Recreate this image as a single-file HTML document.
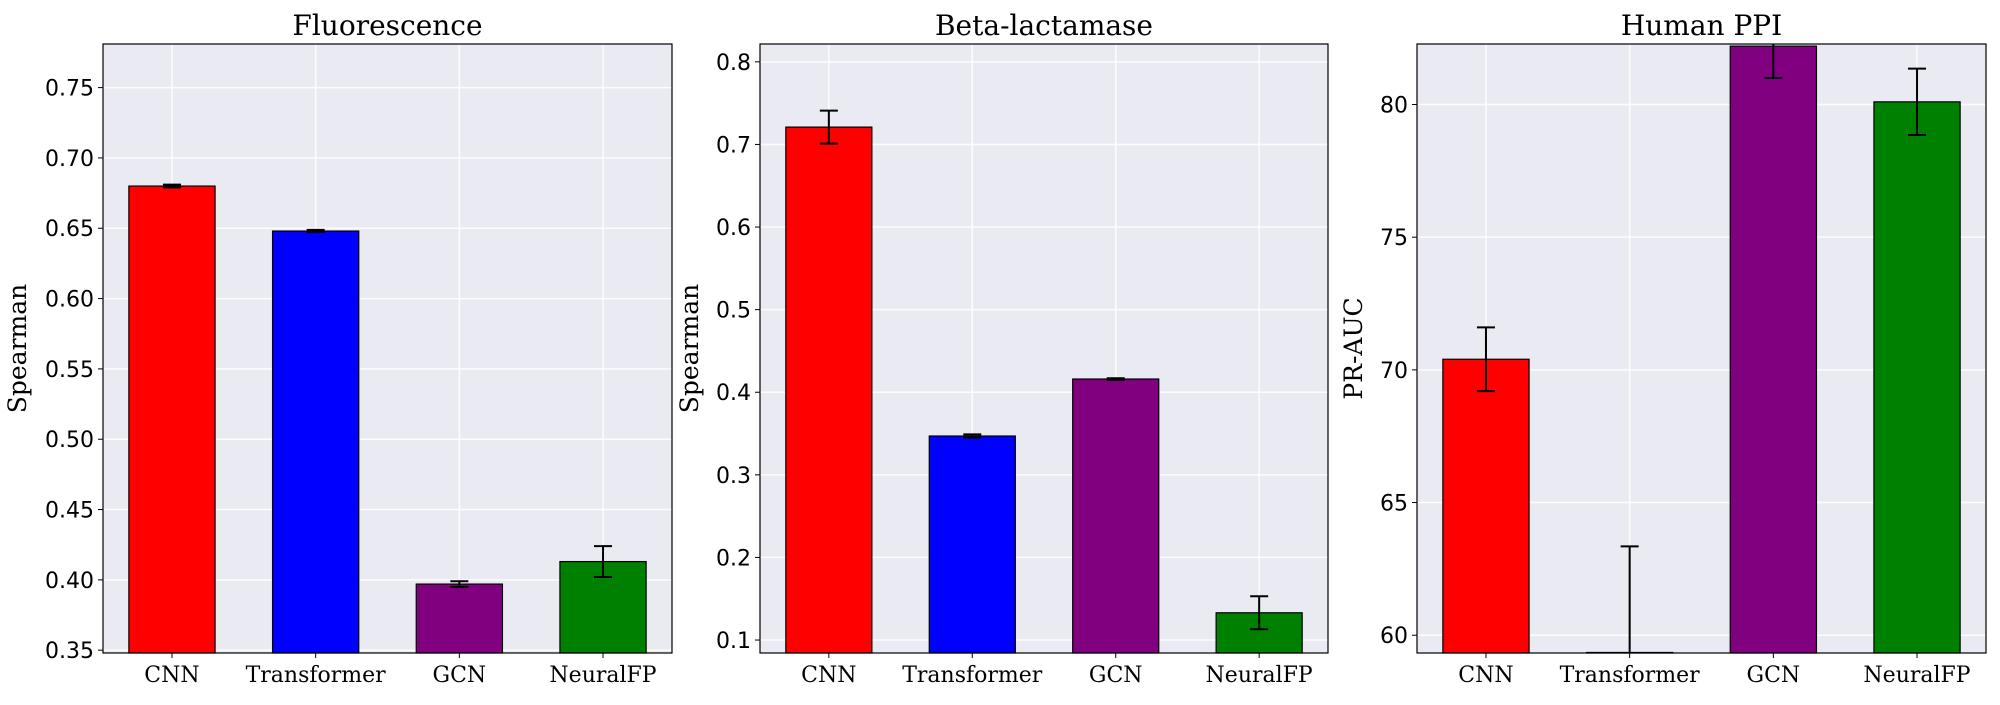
<!DOCTYPE html>
<html><head><meta charset="utf-8"><style>
body{margin:0;background:#fff;}
svg text{font-family:"DejaVu Sans","Liberation Sans",sans-serif;}
.serif{font-family:"DejaVu Serif","Liberation Serif",serif !important;}
</style></head><body>
<svg id="fig" width="2000" height="700" viewBox="0 0 2000 700" xmlns="http://www.w3.org/2000/svg"></svg>
<script>
const categories = ["CNN","Transformer","GCN","NeuralFP"];
const colors = ["#ff0000","#0000ff","#800080","#008000"];
const titles = ["Fluorescence","Beta-lactamase","Human PPI"];
const ylabels = ["Spearman","Spearman","PR-AUC"];
const fluorValues = [0.680,0.648,0.397,0.413];
const fluorErrors = [0.001,0.0008,0.002,0.011];
const betaValues = [0.721,0.347,0.416,0.133];
const betaErrors = [0.020,0.002,0.001,0.020];
const ppiValues = [70.4,59.35,82.2,80.1];
const ppiErrors = [1.2,4.0,1.2,1.25];
const fluorTicks = [0.35,0.40,0.45,0.50,0.55,0.60,0.65,0.70,0.75];
const fluorTickLabels = ["0.35","0.40","0.45","0.50","0.55","0.60","0.65","0.70","0.75"];
const betaTicks = [0.1,0.2,0.3,0.4,0.5,0.6,0.7,0.8];
const betaTickLabels = ["0.1","0.2","0.3","0.4","0.5","0.6","0.7","0.8"];
const ppiTicks = [60,65,70,75,80];
const ppiTickLabels = ["60","65","70","75","80"];
const ylims = [[0.348,0.781],[0.0843,0.8216],[59.33,82.28]];

const panels = [
 {x0:103,x1:672,vals:fluorValues,errs:fluorErrors,ticks:fluorTicks,tl:fluorTickLabels,name:"fluorescence",lx:26},
 {x0:760,x1:1328,vals:betaValues,errs:betaErrors,ticks:betaTicks,tl:betaTickLabels,name:"beta-lactamase",lx:698},
 {x0:1417,x1:1986,vals:ppiValues,errs:ppiErrors,ticks:ppiTicks,tl:ppiTickLabels,name:"human-ppi",lx:1362}
];
const NS="http://www.w3.org/2000/svg";
const svg=document.getElementById('fig');
function mk(tag,attrs,parent){const e=document.createElementNS(NS,tag);for(const k in attrs)e.setAttribute(k,attrs[k]);(parent||svg).appendChild(e);return e;}
const Y0=44,Y1=653;
panels.forEach((p,pi)=>{
  const g=mk('g',{});
  
  
  const [lo,hi]=ylims[pi];
  const ys=v=>Y1-(v-lo)/(hi-lo)*(Y1-Y0);
  const xs=v=>p.x0+(v+0.48)/3.96*(p.x1-p.x0);
  const bg=mk('rect',{x:p.x0,y:Y0,width:p.x1-p.x0,height:Y1-Y0,fill:"#eaeaf2"},g);
  
  
  p.ticks.forEach((t,i)=>{
    const gl=mk('line',{x1:p.x0,x2:p.x1,y1:ys(t),y2:ys(t),stroke:"#fff","stroke-width":1.5,opacity:0.9},g);
    
    
    mk('line',{x1:p.x0-5,x2:p.x0,y1:ys(t),y2:ys(t),stroke:"#000","stroke-width":1},g);
    const tx=mk('text',{x:p.x0-9,y:ys(t)+8,"text-anchor":"end","font-size":22,fill:"#000"},g);
    tx.textContent=p.tl[i];
    
    
  });
  categories.forEach((c,i)=>{
    const gl=mk('line',{x1:xs(i),x2:xs(i),y1:Y0,y2:Y1,stroke:"#fff","stroke-width":1.5,opacity:0.9},g);
    
    
  });
  categories.forEach((c,i)=>{
    const v=p.vals[i], e=p.errs[i];
    const top=Math.max(ys(v),Y0);
    const b=mk('rect',{x:xs(i-0.3),y:top,width:xs(0.3)-xs(-0.3),height:Y1-top,fill:colors[i],stroke:"#000","stroke-width":1.2},g);
    
    
    const eg=mk('g',{stroke:"#000","stroke-width":2},g);
    
    
    const yt=Math.max(ys(v+e),Y0), yb=Math.min(ys(v-e),Y1);
    mk('line',{x1:xs(i),x2:xs(i),y1:yt,y2:yb},eg);
    if(ys(v+e)>=Y0) mk('line',{x1:xs(i)-9,x2:xs(i)+9,y1:yt,y2:yt},eg);
    if(ys(v-e)<=Y1) mk('line',{x1:xs(i)-9,x2:xs(i)+9,y1:yb,y2:yb},eg);
    mk('line',{x1:xs(i),x2:xs(i),y1:Y1,y2:Y1+5,stroke:"#000","stroke-width":1},g);
    const tx=mk('text',{x:xs(i),y:Y1+29,"text-anchor":"middle","font-size":22,fill:"#000",class:"serif"},g);
    tx.textContent=c;
    
    
  });
  const fr=mk('rect',{x:p.x0,y:Y0,width:p.x1-p.x0,height:Y1-Y0,fill:"none",stroke:"#000","stroke-width":1.2},g);
  
  
  const t=mk('text',{x:(p.x0+p.x1)/2,y:35,"text-anchor":"middle","font-size":28,fill:"#000",class:"serif"},g);
  t.textContent=titles[pi];
  
  
  const lx=p.lx;
  const yl=mk('text',{x:lx,y:(Y0+Y1)/2,"text-anchor":"middle","font-size":25,fill:"#000",class:"serif",transform:`rotate(-90 ${lx} ${(Y0+Y1)/2})`},g);
  yl.textContent=ylabels[pi];
  
  
});
</script>
</body></html>
